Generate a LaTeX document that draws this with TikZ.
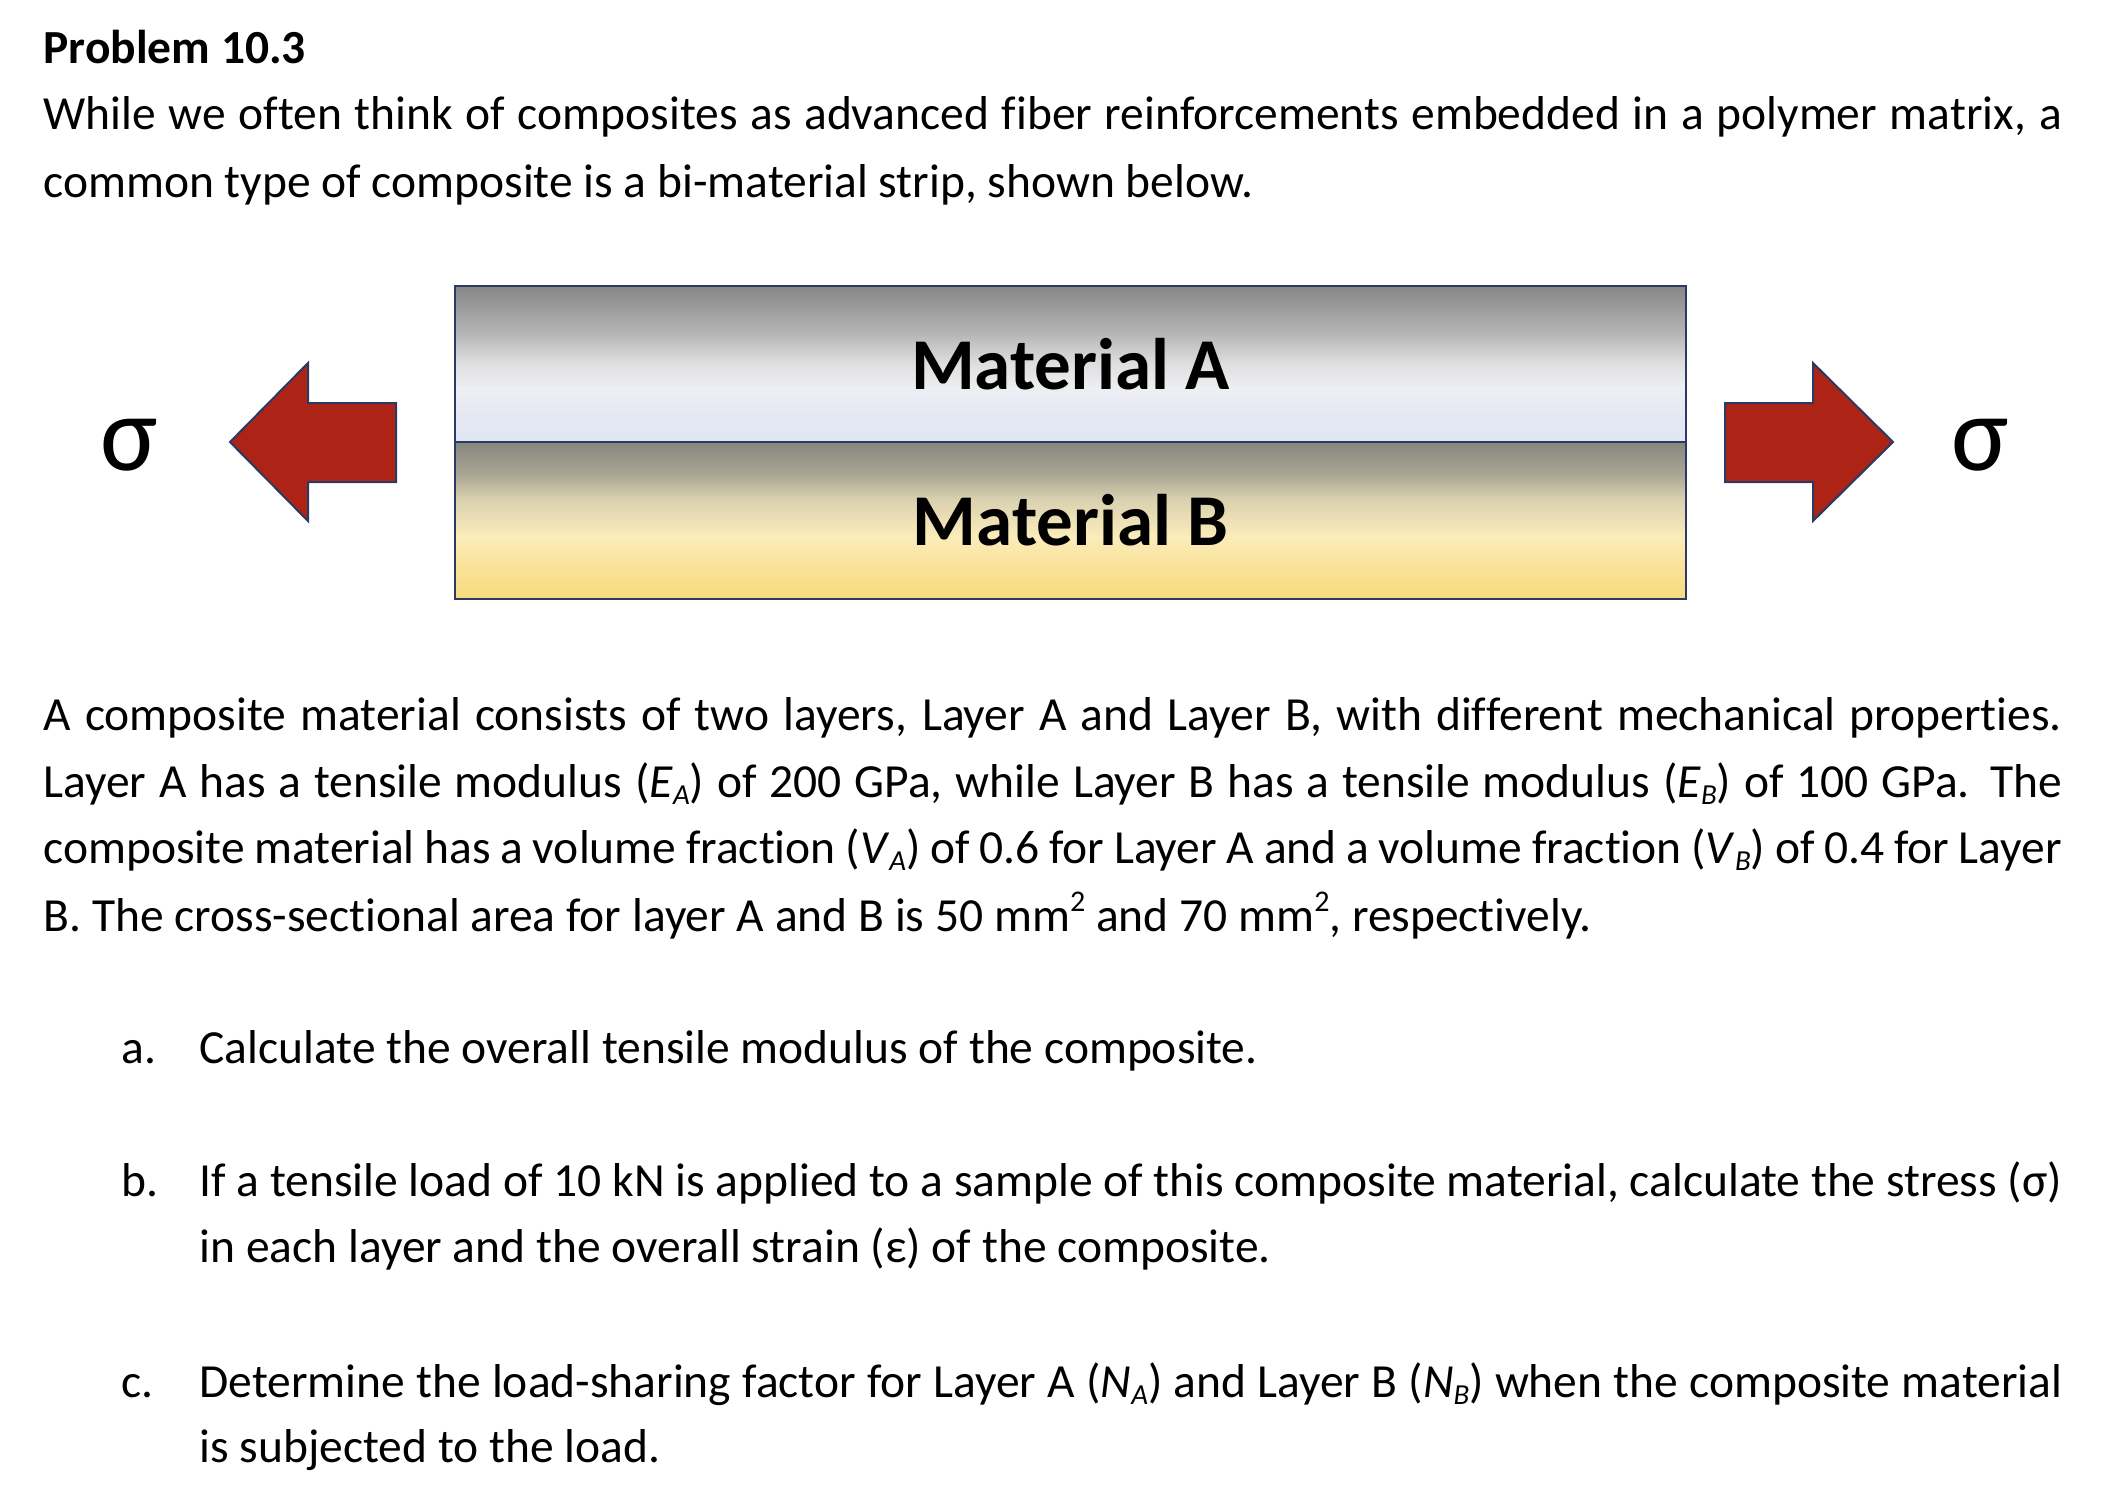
\documentclass[tikz,border=0pt]{standalone}
\usepackage{fontspec}
\setmainfont[Ligatures=NoCommon]{Carlito}
\definecolor{edgeblue}{HTML}{2B3A63}
\definecolor{arrowred}{HTML}{AD2416}
\pgfdeclareverticalshading{matA}{100bp}{
  rgb(0bp)=(0.886,0.902,0.953); rgb(25bp)=(0.886,0.902,0.953); rgb(32.5bp)=(0.894,0.906,0.953);
  rgb(42.5bp)=(0.933,0.937,0.953); rgb(50bp)=(0.875,0.875,0.875); rgb(60bp)=(0.71,0.71,0.71);
  rgb(75bp)=(0.522,0.522,0.522); rgb(100bp)=(0.522,0.522,0.522)}
\pgfdeclareverticalshading{matB}{100bp}{
  rgb(0bp)=(0.973,0.855,0.486); rgb(25bp)=(0.973,0.855,0.486); rgb(37.5bp)=(0.976,0.894,0.627);
  rgb(45bp)=(0.984,0.925,0.729); rgb(57bp)=(0.847,0.816,0.69); rgb(64.5bp)=(0.671,0.655,0.584);
  rgb(75bp)=(0.525,0.525,0.502); rgb(100bp)=(0.525,0.525,0.502)}
\newcommand{\subi}[2]{\textit{#1}\raisebox{-.16em}{\fontsize{29}{29}\selectfont\textit{#2}}}
\newcommand{\jline}[2]{\hbox to #1{\spaceskip=.226em plus 1em minus .12em\relax #2}}
\newcommand{\squared}{\raisebox{.42em}{\fontsize{30}{30}\selectfont 2}}
\tikzset{
  txt/.style={anchor=base west,inner sep=0pt,font=\fontsize{47.5}{47.5}\selectfont},
  layerbox/.style={draw=edgeblue,line width=2.2pt,minimum width=1231pt,inner sep=0pt,font=\fontsize{73}{73}\selectfont\bfseries},
  loadarrow/.style={draw=edgeblue,line width=2pt,fill=arrowred,line join=miter},
  sig/.style={anchor=base,inner sep=0pt,font=\fontsize{108}{108}\selectfont}
}
\begin{document}
\begin{tikzpicture}[x=1pt,y=-1pt]
\useasboundingbox (0,0) rectangle (2120,1508);
\fill[white] (0,0) rectangle (2120,1508);

\node[txt,font=\fontsize{47.5}{47.5}\selectfont\bfseries] (title) at (43.3,63) {Problem 10.3};
\node[txt] (l1) at (43.3,129) {\jline{2018.5pt}{While we often think of composites as advanced fiber reinforcements embedded in a polymer matrix, a}};
\node[txt] (l2) at (43.3,197) {common type of composite is a bi-material strip, shown below.};

\node[layerbox,minimum height=157pt,shading=matA,anchor=north west] (A) at (454,284.5) {Material A};
\node[layerbox,minimum height=157pt,shading=matB,anchor=north west] (B) at (454,441) {Material B};

\draw[loadarrow] (396,403) -- (308,403) -- (308,363) -- (230,442) -- (308,521) -- (308,482) -- (396,482) -- cycle;
\draw[loadarrow] (1725,403) -- (1813,403) -- (1813,363) -- (1893,442) -- (1813,521) -- (1813,482) -- (1725,482) -- cycle;
\node[sig] (sl) at (129.5,470) {σ};
\node[sig] (sr) at (1980.5,470) {σ};

\node[txt] (p1) at (43.3,730) {\jline{2018.5pt}{A composite material consists of two layers, Layer A and Layer B, with different mechanical properties.}};
\node[txt] (p2) at (43.3,797) {\jline{2018.5pt}{Layer A has a tensile modulus (\subi{E}{A}) of 200 GPa, while Layer B has a tensile modulus (\subi{E}{B}) of 100 GPa. The}};
\node[txt] (p3) at (43.3,863) {\jline{2018.5pt}{composite material has a volume fraction (\subi{V}{A}) of 0.6 for Layer A and a volume fraction (\subi{V}{B}) of 0.4 for Layer}};
\node[txt] (p4) at (43.3,931) {B. The cross-sectional area for layer A and B is 50 mm\squared{} and 70 mm\squared{}, respectively.};

\node[txt] (am) at (121.7,1063.4) {a.};
\node[txt] (at) at (199.4,1063.4) {Calculate the overall tensile modulus of the composite.};
\node[txt] (bm) at (121.7,1196.4) {b.};
\node[txt] (bt1) at (199.4,1196.4) {\jline{1862.6pt}{If a tensile load of 10 kN is applied to a sample of this composite material, calculate the stress (σ)}};
\node[txt] (bt2) at (199.4,1262.4) {in each layer and the overall strain (ε) of the composite.};
\node[txt] (cm) at (121.7,1397) {c.};
\node[txt] (ct1) at (199.4,1397) {\jline{1862.6pt}{Determine the load-sharing factor for Layer A (\subi{N}{A}) and Layer B (\subi{N}{B}) when the composite material}};
\node[txt] (ct2) at (199.4,1462) {is subjected to the load.};
\end{tikzpicture}
\end{document}
